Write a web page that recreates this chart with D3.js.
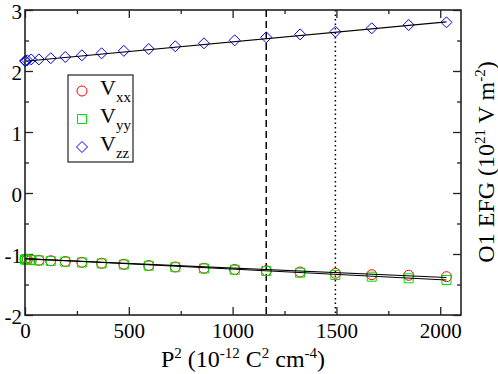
<!DOCTYPE html>
<html>
<head>
<meta charset="utf-8">
<script src="https://cdn.jsdelivr.net/npm/d3@7"></script>
<style>
  body { margin: 0; background: #fff; }
  svg { display: block; }
  text { font-family: "Liberation Serif", "DejaVu Serif", serif; fill: #000; }
</style>
</head>
<body>
<div id="graph"></div>
<script>
// P^2 values (10^-12 C^2 cm^-4)
var p2 = [0, 2, 11, 30, 67, 124, 194, 274, 369, 476, 596, 724, 862, 1010, 1162, 1325, 1495, 1670, 1848, 2030];
// EFG components (10^21 V m^-2)
var vxx = [-1.087, -1.087, -1.09, -1.095, -1.103, -1.111, -1.123, -1.136, -1.152, -1.169, -1.189, -1.213, -1.234, -1.254, -1.274, -1.295, -1.316, -1.339, -1.349, -1.372];
var vyy = [-1.09, -1.09, -1.093, -1.098, -1.106, -1.114, -1.126, -1.139, -1.155, -1.172, -1.192, -1.216, -1.237, -1.258, -1.279, -1.306, -1.344, -1.372, -1.398, -1.426];
var vzz = [2.164, 2.164, 2.175, 2.19, 2.19, 2.21, 2.23, 2.257, 2.29, 2.33, 2.36, 2.405, 2.454, 2.503, 2.552, 2.60, 2.644, 2.70, 2.754, 2.798];
// linear fits (end points)
var fitX = [0, 2030];
var fitXx = [-1.08, -1.385];
var fitYy = [-1.075, -1.425];
var fitZz = [2.16, 2.805];
// reference lines
var dashedAt = 1162;
var dottedAt = 1495;

var seriesNames = ["xx", "yy", "zz"];
var xTicks = [0, 500, 1000, 1500, 2000];
var xMinor = [250, 750, 1250, 1750];
var yTicks = [-2, -1, 0, 1, 2, 3];
var yMinor = [-1.5, -0.5, 0.5, 1.5, 2.5];

var margin = {top: 10, right: 37, bottom: 59, left: 25};
var width = 498 - margin.left - margin.right,
    height = 374 - margin.top - margin.bottom;

var x = d3.scaleLinear().domain([0, 2100]).range([0, width]);
var y = d3.scaleLinear().domain([-2, 3]).range([height, 0]);

var plain = function(d) { return String(d); }; // keep ascii hyphen, no comma

var svg = d3.select("#graph").append("svg")
    .attr("width", 498)
    .attr("height", 374);

var g = svg.append("g")
    .attr("transform", "translate(" + margin.left + "," + margin.top + ")");

function styleAxis(sel) {
  sel.select(".domain").remove();
  sel.selectAll("line").attr("stroke", "#222").attr("stroke-width", 1.3);
  sel.selectAll("text")
    .attr("font-family", "Liberation Serif, serif")
    .attr("font-size", 21)
    .attr("fill", "#000");
}

// bottom / left axes with labels, ticks pointing inside
g.append("g")
    .attr("transform", "translate(0," + height + ")")
    .call(d3.axisBottom(x).tickValues(xTicks).tickFormat(plain).tickSizeInner(-8).tickSizeOuter(0).tickPadding(8))
    .call(styleAxis);
g.append("g")
    .attr("transform", "translate(0," + height + ")")
    .call(d3.axisBottom(x).tickValues(xMinor).tickFormat("").tickSizeInner(-4).tickSizeOuter(0))
    .call(styleAxis);
g.append("g")
    .call(d3.axisLeft(y).tickValues(yTicks).tickFormat(plain).tickSizeInner(-8).tickSizeOuter(0).tickPadding(3))
    .call(styleAxis)
    .selectAll("text").attr("dy", "0.4em");
g.append("g")
    .call(d3.axisLeft(y).tickValues(yMinor).tickFormat("").tickSizeInner(-4).tickSizeOuter(0))
    .call(styleAxis);

// mirrored ticks top / right
g.append("g")
    .call(d3.axisTop(x).tickValues(xTicks).tickFormat("").tickSizeInner(-8).tickSizeOuter(0))
    .call(styleAxis);
g.append("g")
    .call(d3.axisTop(x).tickValues(xMinor).tickFormat("").tickSizeInner(-4).tickSizeOuter(0))
    .call(styleAxis);
g.append("g")
    .attr("transform", "translate(" + width + ",0)")
    .call(d3.axisRight(y).tickValues(yTicks).tickFormat("").tickSizeInner(-8).tickSizeOuter(0))
    .call(styleAxis);
g.append("g")
    .attr("transform", "translate(" + width + ",0)")
    .call(d3.axisRight(y).tickValues(yMinor).tickFormat("").tickSizeInner(-4).tickSizeOuter(0))
    .call(styleAxis);

// vertical reference lines
g.append("line")
    .attr("x1", x(dashedAt)).attr("x2", x(dashedAt))
    .attr("y1", 0).attr("y2", height)
    .attr("stroke", "#000").attr("stroke-width", 1.5)
    .attr("stroke-dasharray", "7,4");
g.append("line")
    .attr("x1", x(dottedAt)).attr("x2", x(dottedAt))
    .attr("y1", 0).attr("y2", height)
    .attr("stroke", "#000").attr("stroke-width", 1.5)
    .attr("stroke-dasharray", "1.5,3");

// markers
var circle = d3.symbol().type(d3.symbolCircle).size(Math.PI * 25);
var square = function(s) { return "M" + (-s) + "," + (-s) + "H" + s + "V" + s + "H" + (-s) + "Z"; };
var diamond = function(s) { return "M0," + (-s) + "L" + s + ",0L0," + s + "L" + (-s) + ",0Z"; };

var markers = [
  {vals: vxx, color: "#ff0000", path: circle()},
  {vals: vyy, color: "#00dd00", path: square(4.5)},
  {vals: vzz, color: "#0000ff", path: diamond(5.5)}
];

markers.forEach(function(m) {
  g.append("g").selectAll("path")
    .data(p2.map(function(p, i) { return {x: p, y: m.vals[i]}; }))
    .enter().append("path")
      .attr("d", m.path)
      .attr("transform", function(d) { return "translate(" + x(d.x) + "," + y(d.y) + ")"; })
      .attr("fill", "none")
      .attr("stroke", m.color)
      .attr("stroke-width", 1);
});

// fit lines
var line = d3.line()
    .x(function(d) { return x(d[0]); })
    .y(function(d) { return y(d[1]); });

[fitXx, fitYy, fitZz].forEach(function(f) {
  g.append("path")
    .attr("d", line(fitX.map(function(v, i) { return [v, f[i]]; })))
    .attr("fill", "none")
    .attr("stroke", "#000")
    .attr("stroke-width", 1.1);
});

// frame
g.append("rect")
    .attr("width", width).attr("height", height)
    .attr("fill", "none")
    .attr("stroke", "#222")
    .attr("stroke-width", 1.6);

// legend
var legend = svg.append("g").attr("transform", "translate(68,75)");
legend.append("rect")
    .attr("width", 65).attr("height", 87)
    .attr("fill", "#fff")
    .attr("stroke", "#333")
    .attr("stroke-width", 1.3);

var legItem = legend.selectAll(".leg")
    .data(markers)
    .enter().append("g")
    .attr("class", "leg")
    .attr("transform", function(d, i) { return "translate(0," + (16 + i * 28) + ")"; });

legItem.append("path")
    .attr("d", function(d) { return d.path; })
    .attr("transform", "translate(14,0)")
    .attr("fill", "none")
    .attr("stroke", function(d) { return d.color; })
    .attr("stroke-width", 1);

var legText = legItem.append("text")
    .attr("x", 32)
    .attr("y", 4)
    .attr("font-size", 22);
legText.append("tspan").text("V");
legText.append("tspan")
    .attr("dy", 7)
    .attr("font-size", 15)
    .text(function(d, i) { return seriesNames[i]; });

// axis titles
var xt = svg.append("text")
    .attr("x", margin.left + width / 2)
    .attr("y", 367)
    .attr("text-anchor", "middle")
    .attr("font-size", 24);
xt.append("tspan").text("P");
xt.append("tspan").attr("dy", -9).attr("font-size", 15).text("2");
xt.append("tspan").attr("dy", 9).text(" (10");
xt.append("tspan").attr("dy", -9).attr("font-size", 15).text("-12");
xt.append("tspan").attr("dy", 9).text(" C");
xt.append("tspan").attr("dy", -9).attr("font-size", 15).text("2");
xt.append("tspan").attr("dy", 9).text(" cm");
xt.append("tspan").attr("dy", -9).attr("font-size", 15).text("-4");
xt.append("tspan").attr("dy", 9).text(")");

var yt = svg.append("text")
    .attr("transform", "translate(494,162) rotate(-90)")
    .attr("text-anchor", "middle")
    .attr("font-size", 24);
yt.append("tspan").text("O1 EFG (10");
yt.append("tspan").attr("dy", -9).attr("font-size", 15).text("21");
yt.append("tspan").attr("dy", 9).text(" V m");
yt.append("tspan").attr("dy", -9).attr("font-size", 15).text("-2");
yt.append("tspan").attr("dy", 9).text(")");
</script>
</body>
</html>
